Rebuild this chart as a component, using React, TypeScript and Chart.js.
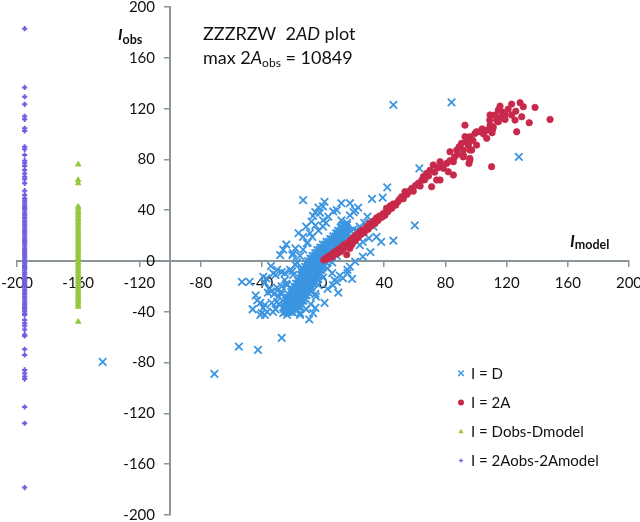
import React, { useEffect, useRef } from 'react';
import { Chart, registerables } from 'chart.js';

Chart.register(...registerables);

// ---------- data ----------
const axisTicks = [-200, -160, -120, -80, -40, 0, 40, 80, 120, 160, 200];
const yAxisCrossX = -100;

const seriesLabels = ['I = D', 'I = 2A', 'I = Dobs-Dmodel', 'I = 2Aobs-2Amodel'];
const seriesColors = ['#3b95e0', '#c8294a', '#94c83d', '#6f5fe2'];

// I = D : scattered points
const dScatter: [number, number][] = [
  [46, 123], [84, 125], [128, 82], [63, 73], [60, 28], [46, 16], [38, 15], [42, 58], [39, 50], [32, 49],
  [35, 19], [26, 3.5], [31, 7], [21, -0.5], [17.6, -4.5], [16, -7], [16, -9.5], [13, -13.5], [11, -11.5],
  [9, -16.5], [6.5, -19], [7.5, -15], [6, -9.5], [19.6, 16.5], [24, 12.5], [23, 23], [24, 27], [29, 35],
  [21, 40], [23, 42], [20, 38.5], [17.6, 36], [15.7, 30], [12, 32], [9, 40], [6.7, 39], [3.5, 35], [2, 30],
  [0, 32], [-2, 38], [1, 46.5], [0, 43], [-3, 42], [-5, 38.5], [-6.5, 35.5], [-7.5, 31], [-5, 28], [-8.5, 22],
  [-13, 48], [12, 45.5], [17.6, 45.5], [-16, 22], [-18, 10], [-10.5, 14], [-19.5, 6], [-20, 4.7], [-28, 4.7],
  [-18, -3], [-21.5, -7], [-19.5, -11], [-30, -7], [-25, -15], [-23.5, -19], [-27, -20], [-27, -8.7],
  [-25, -9.5], [-31, -11], [-39, -12.5], [-48, -16.5], [-53, -16.5], [-43, -31], [-41, -33], [-38, -34.5],
  [-33.5, -33], [-30, -32], [-39, -37], [-36.5, -40], [-40, -41], [-41, -42.5], [-38, -42.5], [-32.7, -40],
  [-26, -41], [-23.5, -42.5], [-15, -42.5], [-6.5, -41], [-5, -37], [-4.6, -28], [-27, -60.5], [-42.5, -70],
  [-55, -67.5], [-71, -89], [-144, -79.5], [-35, -22], [-32, -26], [-29, -28], [-36, -25], [-34, -24],
  [-30, -21], [-28, -25], [14, 22], [18, 24], [27, 30], [33, 27], [26, 15], [30, 18],
  [3, -22], [10, -25], [1, -33], [-9, -46], [19, -14], [-24, 13], [-13, 19], [-26, 9], [-11, 27], [-34, -4],
  [-38, -17], [-44, -27], [-46, -38], [-32.5, -9.7], [-37, -13.6],
  [-20, -8], [-17, -1], [-15, 4], [-13, 9], [-10, 14.5], [-7, 19], [-3, 24], [0, 27], [-24, -18], [-27, -26],
  [-29, -34], [-31, -38], [-14, -6], [-8, -34], [-5, -26], [-3, -19], [0, -13], [3, -6], [6, -1], [9, 4],
  [12, 8], [15, 13], [18, 19], [20, 25], [-11, -38], [-15, -41],
];

// I = D : dense core (solid mass), rows of [y, x values]
const dCoreRows: [number, number[]][] = [
  [-40.1, [-25.1, -23.6, -22.5, -21.0, -19.9]],
  [-37.8, [-25.3, -23.8, -22.7, -21.2, -20.1, -18.6, -17.5]],
  [-35.7, [-25.1, -24.0, -22.5, -21.4, -19.9, -18.8, -17.3, -16.2, -15.1]],
  [-33.3, [-24.8, -23.7, -22.2, -21.1, -19.6, -18.5, -17.0, -15.9, -14.4]],
  [-31.2, [-24.2, -22.7, -21.6, -20.1, -19.0, -17.5, -16.4, -14.9, -13.8, -12.8]],
  [-29.1, [-23.1, -22.0, -20.5, -19.4, -17.9, -16.8, -15.3, -14.2, -12.7, -12.1]],
  [-26.8, [-22.2, -20.7, -19.6, -18.1, -17.0, -15.5, -14.4, -12.9, -11.8, -10.8]],
  [-24.5, [-20.8, -19.7, -18.2, -17.1, -15.6, -14.5, -13.0, -11.9, -10.4, -9.8]],
  [-22.4, [-19.8, -18.3, -17.2, -15.7, -14.6, -13.1, -12.0, -10.5, -9.4, -8.4]],
  [-20.3, [-18.5, -17.4, -15.9, -14.8, -13.3, -12.2, -10.7, -9.6, -8.1, -7.5]],
  [-17.9, [-17.6, -16.1, -15.0, -13.5, -12.4, -10.9, -9.8, -8.3, -7.2, -6.2]],
  [-15.8, [-16.2, -15.1, -13.6, -12.5, -11.0, -9.9, -8.4, -7.3, -5.8, -5.2]],
  [-13.5, [-15.4, -13.9, -12.8, -11.3, -10.2, -8.7, -7.6, -6.1, -5.0, -4.0]],
  [-11.4, [-14.2, -13.1, -11.6, -10.5, -9.0, -7.9, -6.4, -5.3, -3.8, -3.2]],
  [-9.1, [-13.5, -12.0, -10.9, -9.4, -8.3, -6.8, -5.7, -4.2, -3.1, -2.1]],
  [-7.0, [-12.4, -11.3, -9.8, -8.7, -7.2, -6.1, -4.6, -3.5, -2.0, -1.4]],
  [-4.7, [-11.6, -10.1, -9.0, -7.5, -6.4, -4.9, -3.8, -2.3, -1.2, -0.2]],
  [-2.6, [-10.5, -9.4, -7.9, -6.8, -5.3, -4.2, -2.7, -1.6, -0.1, 0.5]],
  [-0.3, [-9.8, -8.3, -7.2, -5.7, -4.6, -3.1, -2.0, -0.5, 0.6, 1.6]],
  [1.8, [-8.2, -7.1, -5.6, -4.5, -3.0, -1.9, -0.4, 0.7, 2.2, 2.8]],
  [4.1, [-6.8, -5.3, -4.2, -2.7, -1.6, -0.1, 1.0, 2.5, 3.6, 4.6]],
  [6.2, [-5.1, -4.0, -2.5, -1.4, 0.1, 1.2, 2.7, 3.8, 5.3, 5.9]],
  [8.5, [-3.7, -2.2, -1.1, 0.4, 1.5, 3.0, 4.1, 5.6, 6.7, 7.7]],
  [10.6, [-1.8, -0.7, 0.8, 1.9, 3.4, 4.5, 6.0, 7.1, 8.6, 9.2]],
  [12.9, [-0.1, 1.4, 2.5, 4.0, 5.1, 6.6, 7.7, 9.2, 10.3, 11.3]],
  [15.0, [2.3, 3.8, 4.9, 6.4, 7.5, 9.0, 10.1, 11.6, 12.3]],
  [17.3, [4.8, 5.9, 7.4, 8.5, 10.0, 11.1, 12.6, 13.6]],
  [19.4, [6.7, 8.2, 9.3, 10.8, 11.9, 13.4, 14.7]],
  [21.7, [8.6, 9.7, 11.2, 12.3, 13.8, 15.1]],
  [23.8, [9.9, 11.4, 12.5, 14.0, 15.3]],
  [26.1, [11.6, 12.7, 14.2, 15.5]],
  [28.2, [12.8, 14.3, 15.7]],
];

// I = 2A
const twoA: [number, number][] = [
  [0.5, 0.8], [1.5, 2], [3, 1.5], [3.5, 3.5], [5, 4.5], [6, 3], [6.5, 6], [8, 7.5], [9, 5.5], [10, 9],
  [11, 7], [12, 11], [13, 9.5], [14, 13], [15.5, 5], [15, 11], [16.5, 14.5], [17.6, 10], [18, 16.5], [19, 13],
  [20, 19], [21, 16], [22, 21], [23, 18.5], [24, 23], [25, 21], [26, 24.5], [27, 22.5], [28.5, 27], [29.5, 25],
  [30.5, 29.5], [31.5, 27.5], [33, 31.5], [34, 29.5], [35, 34], [36, 32], [37, 35.5], [38.5, 34.5], [39.5, 37.5],
  [40.5, 36], [41.5, 41.5], [42.5, 39], [44, 43.5], [45, 41.5], [46, 45],
  [47.5, 44], [49, 46.7], [50, 48.5], [51.4, 50.6], [52.5, 49], [53.6, 54.6], [55, 52.5], [56.5, 55], [58, 57.2],
  [59, 55], [60.5, 59.5], [62.3, 61.2], [63.5, 59], [64.5, 63.5], [65.6, 66.4], [66.5, 64], [67.7, 69], [69, 67],
  [70, 71.5], [71, 58.5], [72.1, 75.6], [73, 70], [74.3, 63.8], [75, 73.5], [76.5, 78.2], [77.5, 74.5],
  [78.6, 73], [80.8, 76.9], [81.9, 70.3], [83, 79], [85.2, 78.2], [85.2, 67.7], [76.5, 63.8],
  [83, 86], [87.4, 87.4], [91.7, 87.4], [96, 87.4], [91.7, 82], [96, 80.8], [95.4, 76.9], [93.9, 93.9],
  [95, 91.3], [100.4, 91.3], [96, 97.9], [92.8, 97.9], [99.3, 100.5], [102.6, 101.8], [107, 96.6], [92.8, 107],
  [91.7, 83.5], [96, 79.5], [97.2, 87.4], [90.6, 92.7], [93.9, 95.3], [100.4, 101.8],
  [109, 111], [109.2, 107], [111, 104], [110.5, 101], [114.6, 109.7], [119, 111.5], [109.2, 115], [112.4, 115],
  [119, 115], [115.7, 122], [114.6, 118.9], [123.3, 123.6], [128.8, 124.7], [130.9, 121.5], [138.6, 121],
  [123.3, 115], [125.5, 111], [129.9, 113.6], [134.8, 108.9], [148.4, 111.5], [126.6, 101.8], [113.5, 111],
  [111.3, 105.8], [107, 103], [105, 100], [110.2, 74.3], [117, 117.5], [121, 119.5], [126, 118], [116, 113],
  [104, 104], [88, 84], [86, 82], [89, 90], [98, 95],
];

// I = Dobs-Dmodel (plotted at x = -160)
const diffDX = -160;
const diffDY = [
  76.1, 63.8, 61.2, 42.8, 41.5, 39.6, 37.9, 36.1, 34.2, 32.6, 30.8, 28.9, 27.3, 25.4, 23.7, 21.9, 20.2,
  18.4, 16.6, 14.9, 13.1, 11.3, 9.6, 7.8, 6.1, 4.3, 2.5, 0.8, -0.9, -2.7, -4.4, -6.2, -7.9, -9.7, -11.5,
  -13.2, -15, -16.7, -18.5, -20.2, -22, -23.8, -25.5, -27.3, -29.1, -30.8, -32.6, -34.3, -36, -47.8,
];

// I = 2Aobs-2Amodel (plotted at x = -195)
const diff2AX = -195;
const diff2AY = [
  183, 136.7, 129.4, 123.4, 114, 111.6, 104.5, 102.4, 90, 88, 83.5, 79, 77, 74.8, 71.7, 69, 66.4, 64.3,
  61.2, 55.4, 52, 49.5, 47.8, 46, 44.3, 42.5, 40.9, 39, 37.2, 35.6, 33.8, 32, 30.4, 28.7, 26.9, 25.1,
  23.5, 21.8, 20, 18.3, 16.6, 14.9, 13.1, 11.4, 9.7, 8, 6.3, 4.6, 2.9, 1.2, -0.5, -2.2, -3.9, -5.6,
  -7.3, -9, -10.7, -12.4, -14.1, -15.8, -17.5, -19.2, -20.9, -22.6, -24.3, -26, -27.7, -29.4, -31.1,
  -32.8, -34.5, -36.2, -37.9, -39.6, -41.3, -42.5, -46.5, -49, -51, -54, -58, -59, -69.5, -74, -85.8,
  -88.4, -91, -93, -115, -127.8, -178.5,
];

// ---------- styling ----------
const AXIS_COLOR = '#8b969b';
const TEXT_COLOR = '#111111';
const FONT = 'Lato';

type Seg = { t: string; f: string; dy?: number };

function drawRich(ctx: CanvasRenderingContext2D, x: number, y: number, segs: Seg[]) {
  let cx = x;
  for (const s of segs) {
    ctx.font = s.f;
    ctx.fillText(s.t, cx, y + (s.dy || 0));
    cx += ctx.measureText(s.t).width;
  }
}

function drawMarker(ctx: CanvasRenderingContext2D, style: string, x: number, y: number, color: string) {
  ctx.save();
  ctx.strokeStyle = color;
  ctx.fillStyle = color;
  ctx.beginPath();
  if (style === 'crossRot') {
    const r = 2.8;
    ctx.lineWidth = 1.4;
    ctx.moveTo(x - r, y - r); ctx.lineTo(x + r, y + r);
    ctx.moveTo(x + r, y - r); ctx.lineTo(x - r, y + r);
    ctx.stroke();
  } else if (style === 'circle') {
    ctx.arc(x, y, 3, 0, Math.PI * 2);
    ctx.fill();
  } else if (style === 'triangle') {
    ctx.moveTo(x, y - 2.8); ctx.lineTo(x + 2.6, y + 1.8); ctx.lineTo(x - 2.6, y + 1.8);
    ctx.closePath();
    ctx.fill();
  } else {
    const r = 2;
    ctx.lineWidth = 1.2;
    ctx.moveTo(x - r, y); ctx.lineTo(x + r, y);
    ctx.moveTo(x, y - r); ctx.lineTo(x, y + r);
    ctx.stroke();
  }
  ctx.restore();
}

const annotationPlugin = {
  id: 'annotations',
  beforeDraw(chart: any) {
    const ys = chart.scales.y;
    const xs = chart.scales.x;
    const items = ys.getLabelItems();
    if (!items._shifted) {
      const axisPx = xs.getPixelForValue(yAxisCrossX);
      items.forEach((it: any) => {
        it.options.translation[0] = axisPx - 15;
        it.options.textAlign = 'right';
      });
      items._shifted = true;
    }
  },
  afterDraw(chart: any) {
    const ctx: CanvasRenderingContext2D = chart.ctx;
    ctx.save();
    ctx.fillStyle = TEXT_COLOR;
    ctx.textBaseline = 'alphabetic';
    ctx.textAlign = 'left';
    drawRich(ctx, 203, 39.5, [
      { t: 'ZZZRZW  2', f: `18px ${FONT}` },
      { t: 'AD', f: `italic 18px ${FONT}` },
      { t: ' plot', f: `18px ${FONT}` },
    ]);
    drawRich(ctx, 203, 63.5, [
      { t: 'max 2', f: `18px ${FONT}` },
      { t: 'A', f: `italic 18px ${FONT}` },
      { t: 'obs', f: `12px ${FONT}`, dy: 3.5 },
      { t: ' = 10849', f: `18px ${FONT}` },
    ]);
    drawRich(ctx, 118, 39.5, [
      { t: 'I', f: `italic bold 16px ${FONT}` },
      { t: 'obs', f: `bold 12.5px ${FONT}`, dy: 4.7 },
    ]);
    drawRich(ctx, 570, 246.7, [
      { t: 'I', f: `italic bold 17px ${FONT}` },
      { t: 'model', f: `bold 12.5px ${FONT}`, dy: 1.8 },
    ]);
    ctx.textBaseline = 'middle';
    chart.data.datasets.forEach((ds: any, i: number) => {
      const y = 373.3 + i * 29.1;
      drawMarker(ctx, ds.pointStyle, 461, y, ds.borderColor);
      ctx.fillStyle = TEXT_COLOR;
      ctx.font = `15px ${FONT}`;
      ctx.fillText(ds.label, 471, y + 0.5);
    });
    ctx.restore();
  },
};

function zeroPad(s: any) {
  s.paddingLeft = 0;
  s.paddingRight = 0;
  s.paddingTop = 0;
  s.paddingBottom = 0;
}

function setTicks(s: any) {
  s.ticks = axisTicks.map((v) => ({ value: v }));
}

export default function App() {
  const ref = useRef<HTMLCanvasElement>(null);

  useEffect(() => {
    if (!ref.current) return;
    const dData = [
      ...dScatter.map(([x, y]) => ({ x, y })),
      ...dCoreRows.flatMap(([y, xs]) => xs.map((x) => ({ x, y }))),
    ];
    const twoAData = twoA.map(([x, y]) => ({ x, y }));
    const diffDData = diffDY.map((y) => ({ x: diffDX, y }));
    const diff2AData = diff2AY.map((y) => ({ x: diff2AX, y }));

    const tickFont = { family: FONT, size: 15 };

    const chart = new Chart(ref.current, {
      type: 'scatter',
      data: {
        datasets: [
          {
            label: seriesLabels[0], data: dData, pointStyle: 'crossRot', pointRadius: 5.3,
            borderWidth: 1.8, borderColor: seriesColors[0], backgroundColor: seriesColors[0], order: 2,
          },
          {
            label: seriesLabels[1], data: twoAData, pointStyle: 'circle', pointRadius: 3.2,
            borderWidth: 0.8, borderColor: seriesColors[1], backgroundColor: seriesColors[1], order: 1,
          },
          {
            label: seriesLabels[2], data: diffDData, pointStyle: 'triangle', pointRadius: 3.1,
            borderWidth: 1, borderColor: seriesColors[2], backgroundColor: seriesColors[2], order: 3,
          },
          {
            label: seriesLabels[3], data: diff2AData, pointStyle: 'cross', pointRadius: 2.6,
            borderWidth: 2, borderColor: seriesColors[3], backgroundColor: seriesColors[3], order: 4,
          },
        ],
      } as any,
      options: {
        responsive: false,
        maintainAspectRatio: false,
        animation: false,
        events: [],
        layout: { padding: { left: 17, right: 11, top: 7, bottom: 7 } },
        plugins: { legend: { display: false }, tooltip: { enabled: false } },
        scales: {
          x: {
            type: 'linear', axis: 'x', min: -200, max: 200, position: { y: 0 },
            afterBuildTicks: setTicks, afterFit: zeroPad,
            grid: { display: true, drawOnChartArea: false, drawTicks: true, tickLength: 5, color: AXIS_COLOR, lineWidth: 1.5 },
            border: { display: true, color: AXIS_COLOR, width: 2 },
            ticks: { padding: 8, color: TEXT_COLOR, font: tickFont, maxRotation: 0, autoSkip: false, callback: (v: any) => String(v) },
          },
          y: {
            type: 'linear', axis: 'y', min: -200, max: 200, position: { x: yAxisCrossX },
            afterBuildTicks: setTicks, afterFit: zeroPad,
            grid: { display: true, drawOnChartArea: false, drawTicks: true, tickLength: 5, color: AXIS_COLOR, lineWidth: 1.5 },
            border: { display: true, color: AXIS_COLOR, width: 2 },
            ticks: { padding: 8, color: TEXT_COLOR, font: tickFont, autoSkip: false, callback: (v: any) => String(v) },
          },
        } as any,
      },
      plugins: [annotationPlugin as any],
    });
    return () => chart.destroy();
  }, []);

  return (
    <div style={{ position: 'fixed', left: 0, top: 0, width: 640, height: 522, background: '#ffffff' }}>
      <canvas ref={ref} width={640} height={522} style={{ display: 'block', width: 640, height: 522 }} />
    </div>
  );
}
